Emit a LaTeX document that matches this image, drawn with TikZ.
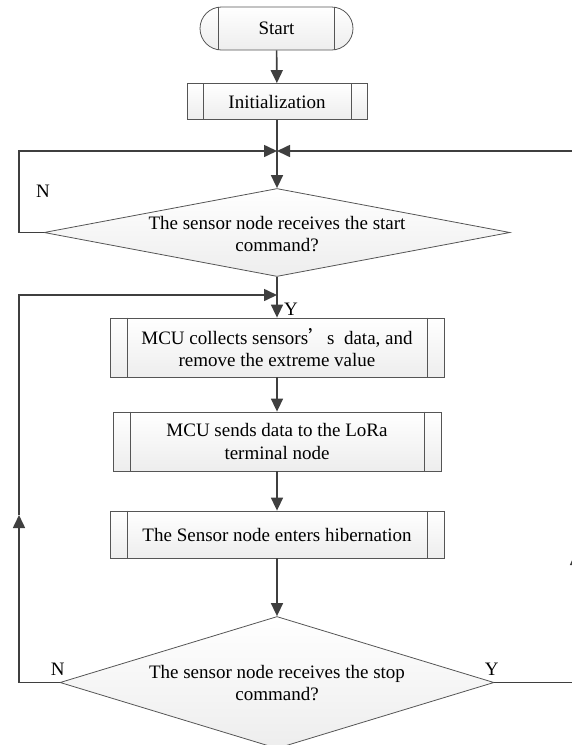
\documentclass[tikz,border=0pt]{standalone}
\usepackage{fontspec}
\setmainfont{Liberation Serif}
\newfontfamily\cjk{Noto Sans CJK SC}
\usetikzlibrary{shapes.geometric,arrows.meta,calc}
\definecolor{lineC}{HTML}{3F3F3F}
\definecolor{edgeC}{HTML}{555555}
\begin{document}
\begin{tikzpicture}[x=1pt,y=-1pt,
  every node/.style={font=\fontsize{19}{22.5}\selectfont, text=black},
  shapebox/.style={draw=edgeC, line width=0.8pt, top color=white, bottom color=gray!14, inner sep=0pt},
  procbox/.style={shapebox, rectangle, align=center},
  termbox/.style={shapebox, rectangle, rounded corners=21.5pt},
  decbox/.style={shapebox, diamond},
  conn/.style={draw=lineC, line width=1.6pt},
  arr/.style={conn, -{Triangle[length=13pt,width=12pt]}},
  lbl/.style={inner sep=0pt}
]
\useasboundingbox (0,0) rectangle (572,745);
\clip (0,0) rectangle (572,745);

% nodes
\node[termbox, minimum width=153pt, minimum height=43pt] (start) at (276.5,28.5) {Start};
\node[procbox, minimum width=180pt, minimum height=36pt] (init) at (277,101.5) {Initialization};
\node[decbox, minimum width=466pt, minimum height=88pt] (d1) at (277,232.5) {};
\node[align=center, lbl] (d1t) at (277,234) {The sensor node receives the start\\command?};
\node[procbox, minimum width=334pt, minimum height=59pt] (b1) at (277,347.5) {MCU collects sensors{\cjk ’}s\ \ data, and\\remove the extreme value};
\node[procbox, minimum width=328pt, minimum height=59pt] (b2) at (277,441.5) {MCU sends data to the LoRa\\terminal node};
\node[procbox, minimum width=334pt, minimum height=47pt] (b3) at (277,534.5) {The Sensor node enters hibernation};
\node[decbox, minimum width=434pt, minimum height=132pt] (d2) at (277,682.5) {};
\node[align=center, lbl] (d2t) at (277,683) {The sensor node receives the stop\\command?};

% inner bars of process boxes
\foreach \n/\s in {init/16.5, b1/17.5, b2/17.5, b3/17.5}{
  \draw[edgeC, line width=0.8pt] ([xshift=\s pt]\n.north west) -- ([xshift=\s pt]\n.south west);
  \draw[edgeC, line width=0.8pt] ([xshift=-\s pt]\n.north east) -- ([xshift=-\s pt]\n.south east);
}
\draw[edgeC, line width=0.8pt] ([xshift=19pt]start.north west) -- ([xshift=19pt]start.south west);
\draw[edgeC, line width=0.8pt] ([xshift=-19pt]start.north east) -- ([xshift=-19pt]start.south east);

% coordinates
\coordinate (J1) at (277,151);
\coordinate (J2) at (277,295);
\coordinate (L1) at (19,232.5);
\coordinate (L2) at (19,682.5);
\coordinate (L3) at (19,515);
\coordinate (L4) at (19,295);
\coordinate (R1) at (576,682.5);
\coordinate (R2) at (576,552);
\coordinate (R3) at (576,151);

% connectors
\draw[arr] (start) -- (init);
\draw[conn] (init.south) -- (J1);
\draw[arr] (J1) -- (d1.north);
\draw[arr] (d1.west) -- (L1) |- (J1);
\draw[conn] (d1.south) -- (J2);
\draw[arr] (J2) -- (b1.north);
\draw[arr] (b1) -- (b2);
\draw[arr] (b2) -- (b3);
\draw[arr] (b3) -- (d2.north);
\draw[arr] (d2.west) -- (L2) -- (L3);
\draw[arr] (L3) -- (L4) -- (J2);
\draw[arr] (d2.east) -- (R1) -- (R2);
\draw[arr] (R2) -- (R3) -- (J1);

% labels
\node[lbl] (n1) at (43,191) {N};
\node[lbl, anchor=west] (y1) at (284,309) {Y};
\node[lbl] (n2) at (57.7,669) {N};
\node[lbl] (y2) at (491.7,669) {Y};
\end{tikzpicture}
\end{document}
